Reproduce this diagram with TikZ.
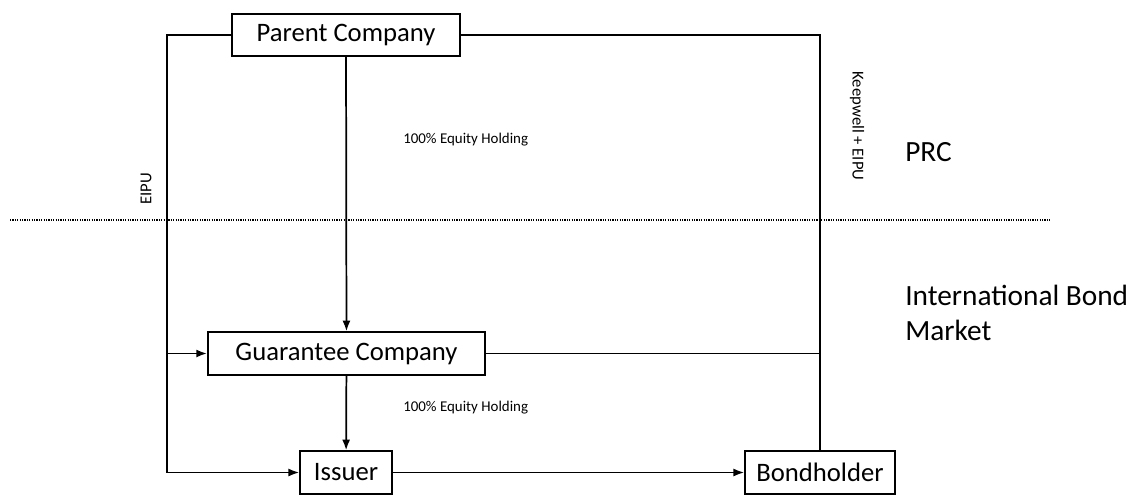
\documentclass[tikz,border=0pt]{standalone}
\usepackage{fontspec}
\setmainfont{Carlito}
\usetikzlibrary{arrows.meta}
\begin{document}
\begin{tikzpicture}[x=0.75pt,y=-0.75pt,
  box/.style={draw, line width=1.3pt, minimum height=32pt, inner sep=0pt, font=\fontsize{20}{24}\selectfont},
  link/.style={line width=1.3pt},
  arr/.style={link, -{Latex[length=8pt,width=6pt]}},
  small/.style={font=\fontsize{11.2}{13}\selectfont, inner sep=0pt},
  rot/.style={font=\fontsize{12.5}{14}\selectfont, inner sep=0pt},
  region/.style={font=\fontsize{22}{26}\selectfont, align=left, anchor=west, inner sep=0pt}]
\useasboundingbox (0,0) rectangle (1138,494);

% entities
\node[box, minimum width=171pt] (parent) at (346,35) {Parent Company};
\node[box, minimum width=208pt] (guar) at (346.5,353.5) {Guarantee Company};
\node[box, minimum width=69pt] (issuer) at (346,472.5) {Issuer};
\node[box, minimum width=112.5pt] (bond) at (820,472.5) {Bondholder};

% junction points on the outer routes
\coordinate (lefttop) at (167,35);
\coordinate (leftg) at (167,353.5);
\coordinate (lefti) at (167,472.5);
\coordinate (righttop) at (820,35);
\coordinate (rightg) at (820,353.5);

% boundary between PRC and international market
\draw[line width=1.2pt, dash pattern=on 0.9pt off 0.9pt] (10,220) -- (1050,220);

% ownership chain
\draw[arr] (parent) -- (guar);
\draw[arr] (guar) -- (issuer);

% EIPU route on the left
\draw[link] (parent.west) -- (lefttop) -- (lefti);
\draw[arr] (leftg) -- (guar.west);
\draw[arr] (lefti) -- (issuer.west);

% keepwell route on the right
\draw[link] (parent.east) -- (righttop) -- (bond.north);
\draw[link] (guar.east) -- (rightg);

% bond issue
\draw[arr] (issuer.east) -- (bond.west);

% labels
\node[small, anchor=west] (eq1) at (403,140) {100\% Equity Holding};
\node[small, anchor=west] (eq2) at (403,408) {100\% Equity Holding};
\node[rot, rotate=90] (eipu) at (146,189) {EIPU};
\node[rot, rotate=-90] (keep) at (857,126) {Keepwell + EIPU};
\node[region] (prc) at (905,152) {PRC};
\node[region] (ibm) at (905,313) {International Bond\\Market};
\end{tikzpicture}
\end{document}
